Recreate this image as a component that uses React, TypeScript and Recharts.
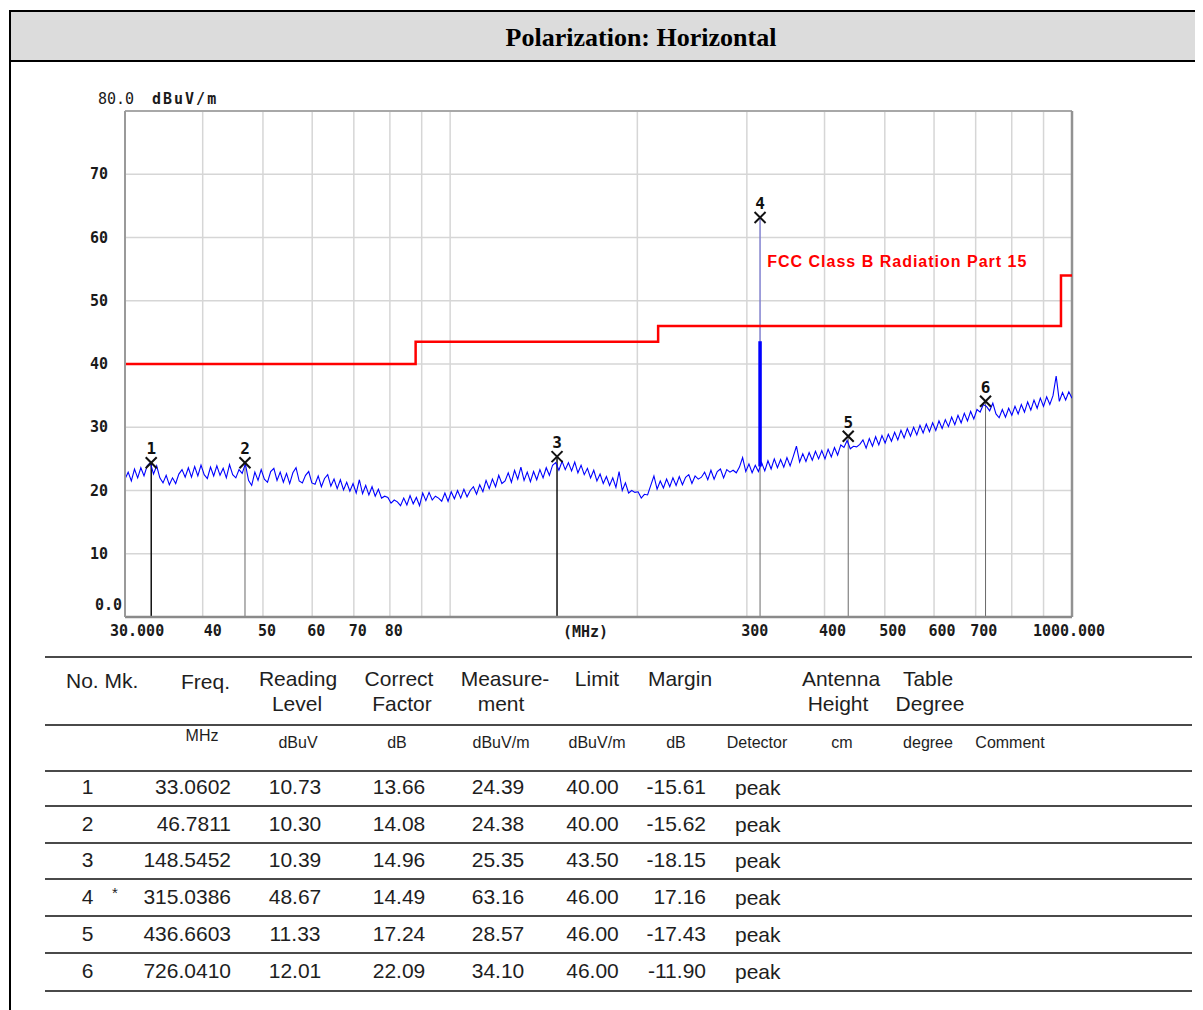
import React from 'react';
import {
  ComposedChart,
  Line,
  Scatter,
  XAxis,
  YAxis,
  CartesianGrid,
  ReferenceLine,
  ReferenceDot,
} from 'recharts';

// analyzer sweep settings (MHz)
const SWEEP_START = 30;
const SWEEP_STOP = 1000;

const traceLevels = [
  21.8, 22.9, 21.5, 23.4, 22.0, 23.6, 22.3, 23.9, 24.4, 22.6, 23.9, 22.0, 21.2, 22.4, 20.9, 22.0, 21.1, 22.6, 23.3, 22.1,
  23.6, 22.1, 23.8, 22.3, 24.0, 22.5, 21.9, 23.7, 22.3, 23.9, 22.4, 23.5, 22.0, 24.1, 22.5, 22.0, 23.3, 22.7, 24.2, 21.6,
  20.8, 22.9, 21.6, 23.3, 21.8, 21.3, 23.0, 23.5, 21.6, 22.9, 21.3, 22.7, 21.1, 22.8, 23.6, 21.5, 21.2, 22.4, 23.0, 21.2,
  21.0, 22.3, 20.6, 21.9, 22.5, 20.7, 21.8, 20.3, 21.7, 20.1, 21.3, 19.9, 21.1, 19.6, 21.7, 19.5, 20.8, 19.3, 20.6, 19.1,
  20.2, 18.8, 19.1, 18.9, 18.0, 18.5, 18.2, 17.6, 18.8, 17.7, 19.2, 17.9, 18.9, 17.6, 19.6, 18.4, 19.7, 18.5, 19.1, 18.8,
  18.3, 19.6, 18.3, 19.8, 18.7, 20.0, 18.8, 20.2, 19.0, 20.0, 20.6, 19.4, 20.9, 19.8, 21.6, 20.3, 21.8, 20.6, 22.4, 21.1,
  21.5, 22.8, 21.3, 23.2, 21.8, 23.7, 21.6, 22.9, 21.4, 23.0, 21.7, 23.3, 22.0, 23.6, 22.4, 24.0, 24.4, 23.2, 24.6, 23.3,
  24.4, 23.1, 24.5, 22.8, 24.0, 22.5, 23.5, 22.0, 23.2, 21.5, 22.6, 21.1, 22.2, 20.8, 22.0, 20.5, 23.0, 20.0, 21.2, 19.6,
  20.0, 19.7, 19.8, 18.8, 19.4, 19.3, 20.8, 22.3, 20.2, 21.5, 20.4, 21.8, 20.6, 22.0, 20.8, 22.2, 20.9, 22.1, 22.5, 21.1,
  22.3, 21.8, 22.1, 22.9, 21.7, 23.2, 21.8, 23.0, 23.4, 22.0, 23.3, 22.9, 23.2, 22.8, 23.7, 25.2, 23.0, 24.2, 22.8, 24.0,
  23.0, 24.4, 23.1, 24.7, 23.4, 25.0, 23.6, 24.9, 23.7, 25.2, 23.9, 25.4, 27.0, 24.5, 25.8, 24.6, 26.0, 24.8, 26.2, 25.0,
  26.3, 25.0, 26.5, 25.3, 26.8, 25.6, 27.2, 26.8, 27.9, 26.6, 27.0, 26.9, 27.3, 28.0, 26.7, 28.2, 27.0, 28.5, 27.2, 28.7,
  27.5, 28.9, 27.8, 29.2, 28.0, 29.5, 28.3, 29.8, 28.6, 30.0, 28.8, 30.3, 29.1, 30.5, 29.3, 30.7, 29.5, 31.0, 29.8, 31.2,
  30.1, 31.6, 30.4, 31.9, 30.7, 32.2, 31.0, 32.5, 31.3, 32.8, 32.4, 33.6, 33.3, 32.6, 33.8, 32.1, 31.5, 32.8, 31.6, 33.0,
  31.9, 33.3, 32.1, 33.6, 32.4, 34.0, 32.7, 34.3, 33.0, 34.6, 33.3, 34.8, 33.6, 35.0, 38.1, 34.1, 35.5, 34.3, 35.6, 34.6,
];

// narrow emission at marker 4 (trace base -> top)
const spikeFreq = 315.0386;
const spikeBase = 23.8;
const spikeTop = 43.6;

// FCC class B limit
const limitFreqs = [30, 88, 88, 216, 216, 960, 960, 1000];
const limitLevels = [40, 40, 43.5, 43.5, 46, 46, 54, 54];
const LIMIT_NAME = 'FCC Class B Radiation Part 15';

// marker table
const markerNos = [1, 2, 3, 4, 5, 6];
const markerFlags = ['', '', '', '*', '', ''];
const markerFreqs = [33.0602, 46.7811, 148.5452, 315.0386, 436.6603, 726.041];
const readingLevels = [10.73, 10.3, 10.39, 48.67, 11.33, 12.01];
const correctFactors = [13.66, 14.08, 14.96, 14.49, 17.24, 22.09];
const measurements = [24.39, 24.38, 25.35, 63.16, 28.57, 34.1];
const limits = [40.0, 40.0, 43.5, 46.0, 46.0, 46.0];
const margins = [-15.61, -15.62, -18.15, 17.16, -17.43, -11.9];
const detectors = ['peak', 'peak', 'peak', 'peak', 'peak', 'peak'];

// axes
const xGridFreqs = [30, 40, 50, 60, 70, 80, 90, 100, 200, 300, 400, 500, 600, 700, 800, 900, 1000];
const xTickLabels: Record<number, string> = {
  30: '30.000', 40: '40', 50: '50', 60: '60', 70: '70', 80: '80',
  300: '300', 400: '400', 500: '500', 600: '600', 700: '700', 1000: '1000.000',
};
const yTicks = [0, 10, 20, 30, 40, 50, 60, 70, 80];

const traceData = traceLevels.map((level, i) => ({
  freq: SWEEP_START * Math.pow(SWEEP_STOP / SWEEP_START, i / (traceLevels.length - 1)),
  level,
}));
const limitData = limitFreqs.map((freq, i) => ({ freq, limit: limitLevels[i] }));
const markerData = markerNos.map((no, i) => ({ freq: markerFreqs[i], level: measurements[i], no }));

const MONO = '"DejaVu Sans Mono", monospace';
const SANS = '"Liberation Sans", Arial, sans-serif';

function XTick({ x, y, payload }: any) {
  const v = payload.value;
  const label = xTickLabels[v];
  if (!label) return <g />;
  let anchor: 'start' | 'middle' = 'middle';
  let dx = v < 100 ? 4 : 8;
  if (v === 30) { anchor = 'start'; dx = -15; }
  if (v === 40) dx = 10;
  if (v === 1000) dx = -3;
  return (
    <text x={x + dx} y={y + 14} textAnchor={anchor} dominantBaseline="central"
      fontFamily={MONO} fontWeight="bold" fontSize={15} fill="#1a1a1a">
      {label}
    </text>
  );
}

function YTick({ x, y, payload }: any) {
  const v = payload.value;
  const common = { fontFamily: MONO, fontSize: 15, fill: '#1a1a1a', dominantBaseline: 'central' as const };
  if (v === 80) {
    return (
      <g>
        <text x={x - 27} y={y - 12} textAnchor="start" {...common}>80.0</text>
        <text x={x + 27} y={y - 12} textAnchor="start" fontWeight="bold" letterSpacing={2} {...common}>dBuV/m</text>
      </g>
    );
  }
  if (v === 0) {
    return <text x={x - 3} y={y - 12} textAnchor="end" fontWeight="bold" {...common}>0.0</text>;
  }
  return <text x={x - 17} y={y} textAnchor="end" fontWeight="bold" {...common}>{v}</text>;
}

function MarkerShape({ cx, cy, payload }: any) {
  const s = 5.5;
  return (
    <g>
      <line x1={cx - s} y1={cy - s} x2={cx + s} y2={cy + s} stroke="#111" strokeWidth={2} />
      <line x1={cx - s} y1={cy + s} x2={cx + s} y2={cy - s} stroke="#111" strokeWidth={2} />
      <text x={cx} y={cy - 14} textAnchor="middle" dominantBaseline="central"
        fontFamily={MONO} fontWeight="bold" fontSize={16} fill="#111">
        {payload.no}
      </text>
    </g>
  );
}

function Txt({ x, y, a = 'c', size = 21, children, style }: any) {
  const tx = a === 'c' ? '-50%' : a === 'r' ? '-100%' : '0';
  return (
    <div style={{
      position: 'absolute', left: x - 8, top: y - 8, transform: `translate(${tx}, -50%)`,
      fontSize: size, lineHeight: 1, whiteSpace: 'nowrap', color: '#1e1e1e', ...style,
    }}>
      {children}
    </div>
  );
}

const tableLinesY = [657, 725, 771, 806, 843, 879, 916, 953, 991];
const ROW_Y0 = 786;
const ROW_STEP = 36.7;

export default function App() {
  return (
    <div style={{ position: 'relative', width: 1195, height: 1002, overflow: 'hidden', fontFamily: SANS }}>
      {/* header */}
      <div style={{
        position: 'absolute', left: 1, top: 2, width: 1260, height: 48,
        border: '2px solid #000', background: '#dcdcdc',
      }} />
      <div style={{
        position: 'absolute', left: 633, top: 30, transform: 'translate(-50%, -50%)',
        fontFamily: '"Liberation Serif", "Times New Roman", serif', fontWeight: 'bold', fontSize: 26,
        whiteSpace: 'nowrap', color: '#000',
      }}>
        Polarization: Horizontal
      </div>
      <div style={{ position: 'absolute', left: 1, top: 52, width: 2, height: 1000, background: '#000' }} />

      {/* chart */}
      <div style={{ position: 'absolute', left: 0, top: 70 }}>
        <ComposedChart width={1110} height={580} margin={{ top: 33, right: 46, bottom: 11, left: 77 }}>
          <CartesianGrid stroke="#d6d6d6" strokeWidth={1.5} />
          <XAxis
            type="number" dataKey="freq" scale="log" domain={[SWEEP_START, SWEEP_STOP]} allowDataOverflow
            ticks={xGridFreqs} interval={0} tick={<XTick />} tickLine={false} tickSize={0} tickMargin={0}
            axisLine={{ stroke: '#8a8a8a', strokeWidth: 2.5 }} height={30}
            label={{ value: '(MHz)', position: 'center', dx: -13, dy: 0, fontFamily: MONO, fontWeight: 'bold', fontSize: 15, fill: '#1a1a1a' }}
          />
          <YAxis
            type="number" domain={[0, 80]} ticks={yTicks} interval={0} tick={<YTick />} tickLine={false}
            tickSize={0} tickMargin={0} axisLine={{ stroke: '#9a9a9a', strokeWidth: 2 }} width={40}
          />
          <ReferenceLine y={80} stroke="#a8a8a8" strokeWidth={2} />
          <ReferenceLine x={SWEEP_STOP} stroke="#929292" strokeWidth={2.5} />
          {markerData.map((m, i) => (
            <ReferenceLine
              key={`ml-${i}`}
              segment={[{ x: m.freq, y: 0 }, { x: m.freq, y: m.level }]}
              stroke={i === 0 || i === 2 ? '#111' : '#6a6a6a'}
              strokeWidth={i === 0 || i === 2 ? 1.5 : 1}
            />
          ))}
          <ReferenceLine
            segment={[{ x: spikeFreq, y: spikeTop }, { x: spikeFreq, y: measurements[3] }]}
            stroke="#8c8cff" strokeWidth={1}
          />
          <Line data={traceData} dataKey="level" type="linear" stroke="#0000ff" strokeWidth={1.1}
            dot={false} activeDot={false} isAnimationActive={false} />
          <ReferenceLine
            segment={[{ x: spikeFreq, y: spikeBase }, { x: spikeFreq, y: spikeTop }]}
            stroke="#0000ff" strokeWidth={3.5}
          />
          <Line data={limitData} dataKey="limit" type="linear" stroke="#ff0000" strokeWidth={2.5}
            dot={false} activeDot={false} isAnimationActive={false} />
          <Scatter data={markerData} dataKey="level" shape={<MarkerShape />} isAnimationActive={false} />
          <ReferenceDot
            x={323.5} y={56.2} r={0} fill="none" stroke="none"
            label={{ value: LIMIT_NAME, position: 'right', offset: 0, fill: '#ff0000', fontSize: 16, fontWeight: 'bold', fontFamily: SANS, letterSpacing: 1 }}
          />
        </ComposedChart>
      </div>

      {/* table rules */}
      {tableLinesY.map((y, i) => (
        <div key={`tl-${i}`} style={{ position: 'absolute', left: 37, top: y - 9, width: 1147, height: 2, background: '#4a4a4a' }} />
      ))}

      {/* table header */}
      <Txt x={66} y={680} a="l">No. Mk.</Txt>
      <Txt x={181} y={681} a="l">Freq.</Txt>
      <Txt x={298} y={678}>Reading</Txt>
      <Txt x={297} y={703}>Level</Txt>
      <Txt x={399} y={678}>Correct</Txt>
      <Txt x={402} y={703}>Factor</Txt>
      <Txt x={505} y={678}>Measure-</Txt>
      <Txt x={501} y={703}>ment</Txt>
      <Txt x={597} y={678}>Limit</Txt>
      <Txt x={680} y={678}>Margin</Txt>
      <Txt x={841} y={678}>Antenna</Txt>
      <Txt x={838} y={703}>Height</Txt>
      <Txt x={928} y={678}>Table</Txt>
      <Txt x={930} y={703}>Degree</Txt>

      <Txt x={202} y={736} size={16}>MHz</Txt>
      <Txt x={298} y={743} size={16}>dBuV</Txt>
      <Txt x={397} y={743} size={16}>dB</Txt>
      <Txt x={501} y={743} size={16}>dBuV/m</Txt>
      <Txt x={597} y={743} size={16}>dBuV/m</Txt>
      <Txt x={676} y={743} size={16}>dB</Txt>
      <Txt x={757} y={743} size={16}>Detector</Txt>
      <Txt x={842} y={743} size={16}>cm</Txt>
      <Txt x={928} y={743} size={16}>degree</Txt>
      <Txt x={1010} y={743} size={16}>Comment</Txt>

      {/* table rows */}
      {markerNos.map((no, i) => {
        const y = ROW_Y0 + i * ROW_STEP;
        return (
          <React.Fragment key={`row-${i}`}>
            <Txt x={87.5} y={y}>{no}</Txt>
            {markerFlags[i] && <Txt x={115} y={y - 4} size={15}>{markerFlags[i]}</Txt>}
            <Txt x={231} y={y} a="r">{markerFreqs[i].toFixed(4)}</Txt>
            <Txt x={295} y={y}>{readingLevels[i].toFixed(2)}</Txt>
            <Txt x={399} y={y}>{correctFactors[i].toFixed(2)}</Txt>
            <Txt x={498} y={y}>{measurements[i].toFixed(2)}</Txt>
            <Txt x={592.5} y={y}>{limits[i].toFixed(2)}</Txt>
            <Txt x={706} y={y} a="r">{margins[i].toFixed(2)}</Txt>
            <Txt x={735} y={y + 1} a="l">{detectors[i]}</Txt>
          </React.Fragment>
        );
      })}
    </div>
  );
}
